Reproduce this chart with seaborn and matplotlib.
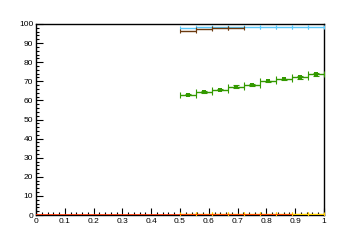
import numpy as np
import pandas as pd
import seaborn as sns
import matplotlib
matplotlib.use("Agg")
import matplotlib.pyplot as plt
from matplotlib.ticker import MultipleLocator

# bin edges (9 bins from 0.5 to 1.0)
edges = np.linspace(0.5, 1.0, 10)
centers = (edges[:-1] + edges[1:]) / 2
halfw = (edges[1] - edges[0]) / 2

blue_vals = [98.1, 98.6, 98.6, 98.6, 98.6, 98.6, 98.6, 98.6, 98.6]
brown_vals = [96.2, 97.2, 97.7, 97.7]
green_vals = [63.0, 64.3, 65.7, 67.2, 68.3, 70.0, 71.0, 72.1, 73.6]
green_err = [0.4, 0.4, 0.4, 0.9, 0.5, 0.4, 0.4, 0.7, 0.7]
yellow_vals = [0.3] * 9
red_range = [0.0, 0.889]
red_val = 0.0

sns.set_theme(style="ticks")
plt.rcParams['font.family'] = ['Liberation Sans', 'DejaVu Sans']

fig = plt.figure(figsize=(3.6, 2.4), dpi=100)
ax = fig.add_axes([0.1, 0.104, 0.8, 0.796])

blue_c = '#5ac8fa'
brown_c = '#6b3a0f'
green_c = '#339900'
red_c = '#ff3300'
yellow_c = '#ffcc00'

# yellow near zero
ax.errorbar(centers, yellow_vals, xerr=halfw, fmt='none', ecolor=yellow_c,
            elinewidth=1.0, capsize=1.5, capthick=0.8, zorder=3)
# red line at 0
sns.lineplot(x=red_range, y=[red_val, red_val], ax=ax, color=red_c, lw=1.2, zorder=4)

# blue
ax.errorbar(centers, blue_vals, xerr=halfw, fmt='none', ecolor=blue_c,
            elinewidth=1.0, capsize=1.5, capthick=0.8, zorder=3)
# brown
ax.errorbar(centers[:4], brown_vals, xerr=halfw, fmt='none', ecolor=brown_c,
            elinewidth=1.0, capsize=1.5, capthick=0.8, zorder=3)
# green
ax.errorbar(centers, green_vals, xerr=halfw, yerr=green_err, fmt='none', ecolor=green_c,
            elinewidth=1.0, capsize=2, capthick=0.8, zorder=3)
df_g = pd.DataFrame({"x": centers, "y": green_vals})
sns.scatterplot(data=df_g, x="x", y="y", ax=ax, marker='s', s=8, color=green_c,
                edgecolor=green_c, linewidth=0, zorder=5)

ax.set_xlim(0, 1)
ax.set_ylim(0, 100)
ax.set_xlabel("")
ax.set_ylabel("")
ax.xaxis.set_major_locator(MultipleLocator(0.1))
ax.xaxis.set_minor_locator(MultipleLocator(0.02))
ax.yaxis.set_major_locator(MultipleLocator(10))
ax.yaxis.set_minor_locator(MultipleLocator(2))
ax.set_xticks(np.round(np.arange(0, 1.01, 0.1), 1))
ax.set_xticklabels(["0", "0.1", "0.2", "0.3", "0.4", "0.5", "0.6", "0.7", "0.8", "0.9", "1"])
ax.tick_params(which='both', direction='in', top=False, right=False, width=0.8,
               labelsize=6, pad=2, colors='black')
ax.tick_params(which='major', length=5)
ax.tick_params(which='minor', length=2.5)
for s in ax.spines.values():
    s.set_linewidth(1.0)
    s.set_color('black')

fig.savefig("out.png", dpi=100)
